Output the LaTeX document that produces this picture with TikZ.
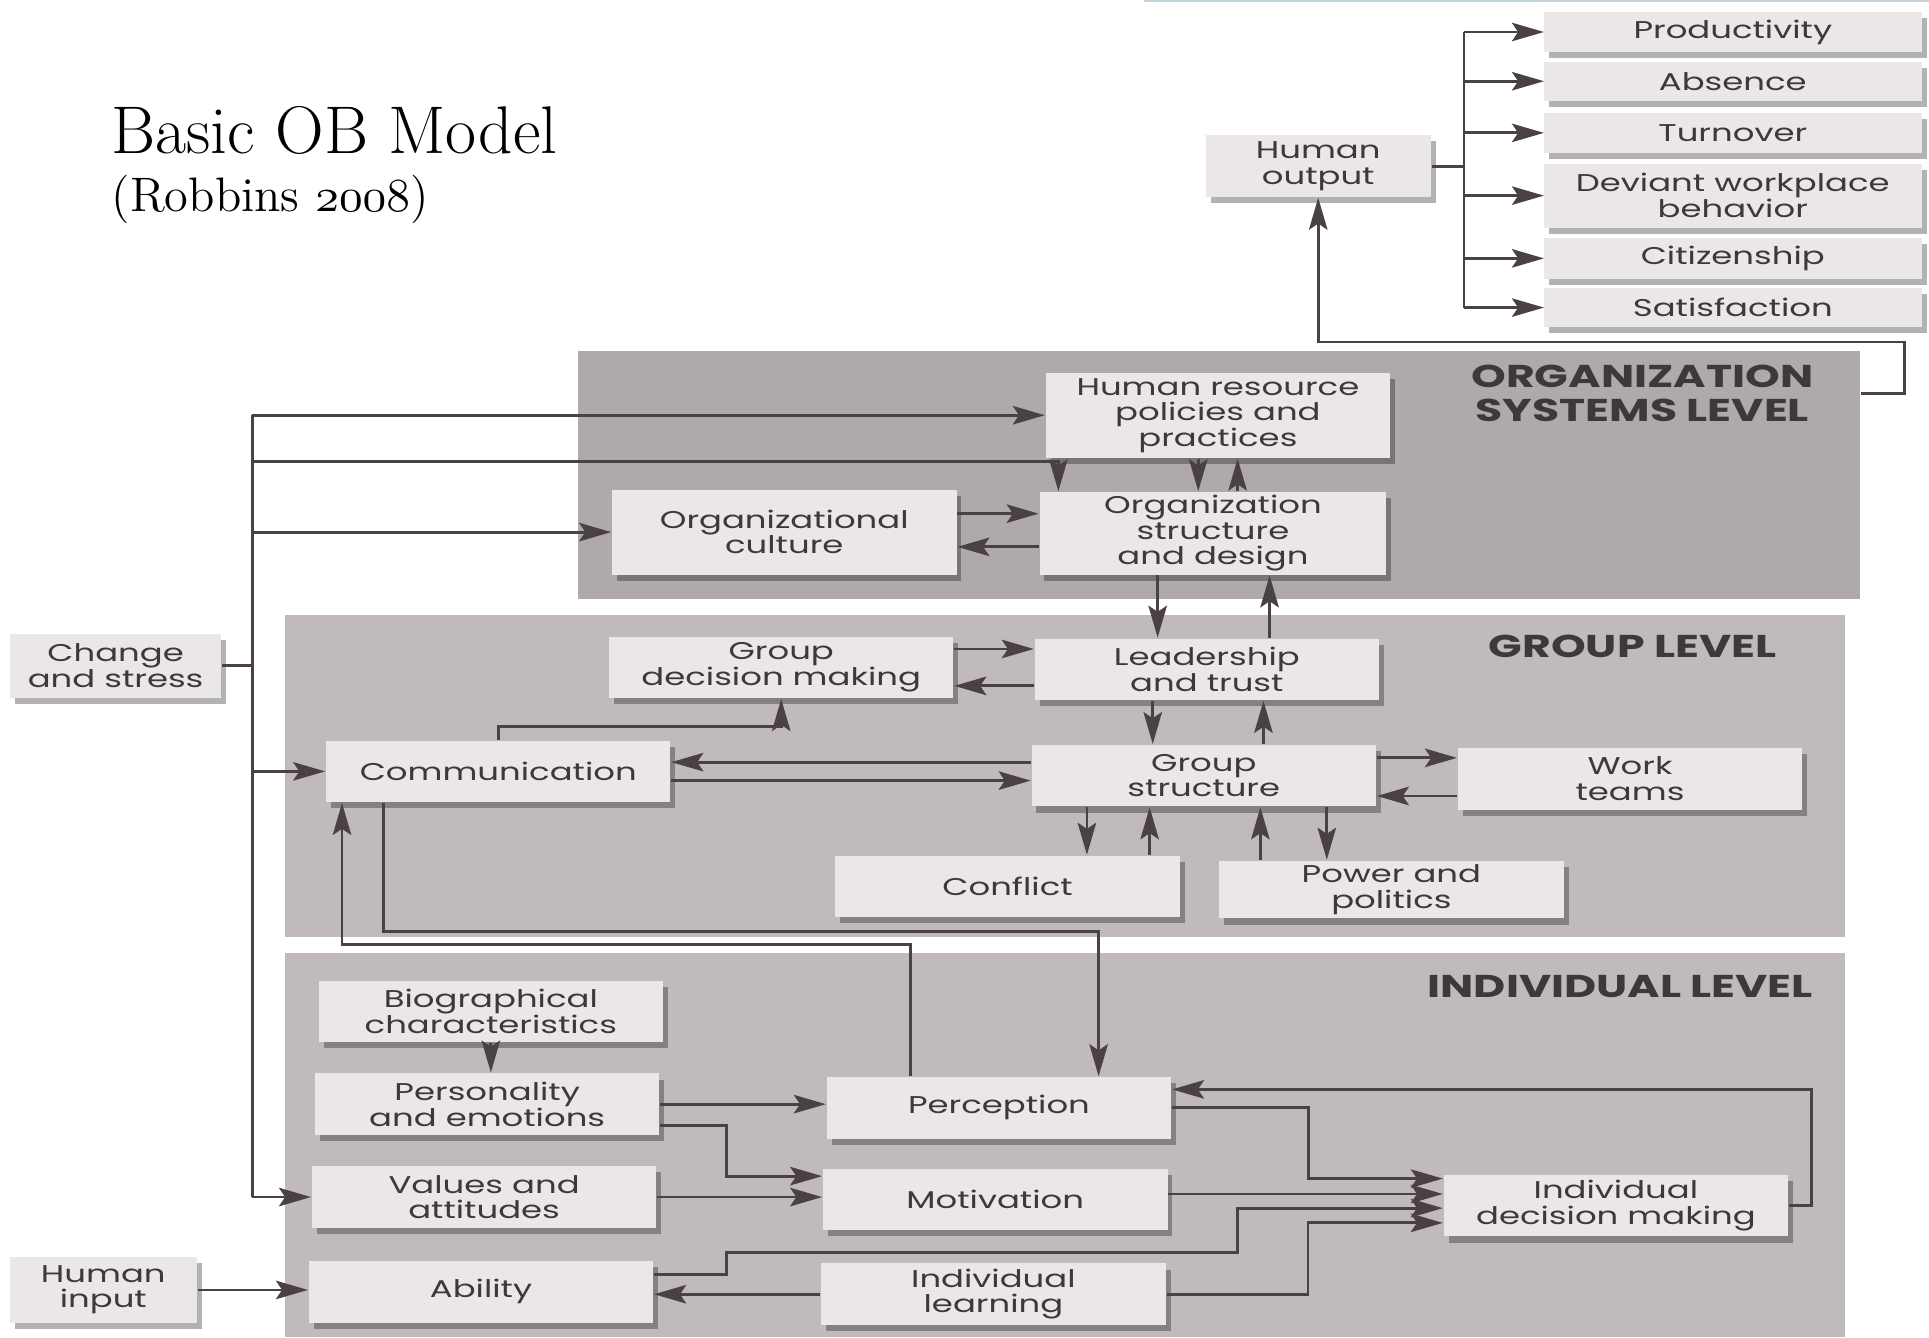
\documentclass[tikz,border=0pt]{standalone}
\usepackage{fontspec}
\usepackage{tikz}
\usetikzlibrary{arrows.meta,shadows}
\newfontfamily\boxfont[FakeStretch=1.4]{Poppins}
\newcommand\osfnum[1]{{\fontencoding{OML}\fontfamily{cmm}\fontseries{m}\fontshape{it}\selectfont #1}}
\definecolor{panelgray}{RGB}{192,186,186}
\definecolor{orggray}{RGB}{176,169,169}
\definecolor{boxfill}{RGB}{235,231,231}
\definecolor{ink}{RGB}{62,56,56}
\definecolor{linegray}{RGB}{74,66,66}
\tikzset{
	box/.style={fill=boxfill, text=ink, align=center, inner sep=0pt,
		minimum width=2.8cm, minimum height=0.5cm,
		font=\boxfont\fontsize{5.6}{5.9}\selectfont,
		drop shadow={shadow xshift=0.4mm, shadow yshift=-0.5mm, fill=black, opacity=0.3}},
	panel/.style={fill=panelgray, inner sep=0pt},
	lvl/.style={text=ink, align=center, font=\boxfont\bfseries\fontsize{7.3}{7.9}\selectfont},
	wire/.style={draw=linegray, line width=0.65pt},
	arr/.style={wire, -{Stealth[length=2.6mm, width=1.5mm, inset=0.5mm]}}
}
\begin{document}
\begin{tikzpicture}
			\useasboundingbox (0,0) rectangle (15.68,-10.87);
			\fill[white] (0,0) rectangle (15.68,-10.87);
			\draw[cyan!30!gray!40, line width=0.4pt] (9.30,-0.01) -- (15.68,-0.01);
			\node[anchor=base west, inner sep=0pt, font=\fontsize{15.6}{18}\selectfont] (title) at (0.90,-1.25) {Basic OB Model};
			\node[anchor=base west, inner sep=0pt, font=\fontsize{11.2}{13}\selectfont] (cite) at (0.90,-1.72) {(Robbins \osfnum{2008})};
			\node[panel, fill=orggray, minimum width=10.42cm, minimum height=2.02cm] (orgp) at (9.91,-3.86) {};
			\node[panel, minimum width=12.68cm, minimum height=2.62cm] (grpp) at (8.66,-6.31) {};
			\node[panel, minimum width=12.68cm, minimum height=3.12cm] (indp) at (8.66,-9.31) {};
			\node[lvl] (orglbl) at (13.35,-3.20) {ORGANIZATION\\SYSTEMS LEVEL};
			\node[lvl] (grplbl) at (13.27,-5.25) {GROUP LEVEL};
			\node[lvl] (indlbl) at (13.17,-8.02) {INDIVIDUAL LEVEL};
			\coordinate (obus) at (11.90,0);
			\coordinate (cbus) at (2.05,0);
			\foreach \nm/\yy/\hh/\tx in {prod/0.26/0.32/Productivity,abs/0.66/0.32/Absence,turn/1.08/0.32/Turnover,dev/1.59/0.52/{Deviant workplace\\behavior},cit/2.10/0.33/Citizenship,sat/2.50/0.32/Satisfaction}
			{
			\node[box, minimum width=3.07cm, minimum height=\hh cm] (\nm) at (14.085,-\yy) {\tx};
			\draw[arr] (11.90,-\yy) -- (12.55,-\yy);
			}
			\draw[wire] (prod.west -| obus) -- (sat.west -| obus);
			\node[box, minimum width=1.83cm] (hout) at (10.715,-1.35) {Human\\output};
			\draw[wire] (hout.east) -- (hout.east -| obus);
			\draw[arr] (orgp.east |- 0,-3.20) -| (15.48,-2.78) -| (hout.south);
			\node[box, minimum height=0.69cm] (hrp) at (9.90,-3.375) {Human resource\\policies and\\practices};
			\node[box, minimum width=2.82cm, minimum height=0.67cm] (os) at (9.86,-4.335) {Organization\\structure\\and design};
			\node[box, minimum height=0.69cm] (oc) at (6.375,-4.325) {Organizational\\culture};
			\node[box, minimum width=1.72cm, minimum height=0.52cm] (chg) at (0.94,-5.41) {Change\\and stress};
			\node[box] (gdm) at (6.35,-5.425) {Group\\decision making};
			\node[box] (lt) at (9.81,-5.44) {Leadership\\and trust};
			\node[box] (comm) at (4.05,-6.27) {Communication};
			\node[box] (gs) at (9.785,-6.305) {Group\\structure};
			\node[box] (wt) at (13.25,-6.33) {Work\\teams};
			\node[box] (conf) at (8.19,-7.205) {Conflict};
			\node[box, minimum height=0.47cm] (pp) at (11.31,-7.23) {Power and\\politics};
			\node[box] (bio) at (3.99,-8.22) {Biographical\\characteristics};
			\node[box] (pers) at (3.96,-8.975) {Personality\\and emotions};
			\node[box] (val) at (3.935,-9.73) {Values and\\attitudes};
			\node[box] (ab) at (3.91,-10.50) {Ability};
			\node[box] (perc) at (8.12,-9.005) {Perception};
			\node[box] (mot) at (8.09,-9.75) {Motivation};
			\node[box] (il) at (8.075,-10.52) {Individual\\learning};
			\node[box] (idm) at (13.135,-9.80) {Individual\\decision making};
			\node[box, minimum width=1.52cm, minimum height=0.53cm] (hin) at (0.84,-10.485) {Human\\input};
			\draw[wire] (chg.east) -- (chg.east -| cbus);
			\draw[wire] (hrp.west -| cbus) -- (val.west -| cbus);
			\draw[arr] (hrp.west -| cbus) -- (hrp.west);
			\draw[arr] (cbus |- 0,-3.75) -| ([xshift=1.6mm]os.north west);
			\draw[arr] (oc.west -| cbus) -- (oc.west);
			\draw[arr] (comm.west -| cbus) -- (comm.west);
			\draw[arr] (val.west -| cbus) -- (val.west);
			\draw[arr] ([xshift=-1.6mm]hrp.south) -- ([xshift=-1.6mm]hrp.south |- os.north);
			\draw[arr] ([xshift=1.6mm]hrp.south |- os.north) -- ([xshift=1.6mm]hrp.south);
			\draw[arr] ([yshift=1.5mm]oc.east) -- ([yshift=1.5mm]oc.east -| os.west);
			\draw[arr] ([yshift=-1.2mm]oc.east -| os.west) -- ([yshift=-1.2mm]oc.east);
			\draw[arr] ([xshift=-4.5mm]os.south) -- ([xshift=-4.5mm]os.south |- lt.north);
			\draw[arr] ([xshift=4.6mm]os.south |- lt.north) -- ([xshift=4.6mm]os.south);
			\draw[arr] ([yshift=1.5mm]gdm.east) -- ([yshift=1.5mm]gdm.east -| lt.west);
			\draw[arr] ([yshift=-1.5mm]gdm.east -| lt.west) -- ([yshift=-1.5mm]gdm.east);
			\draw[arr] ([xshift=-4.4mm]lt.south) -- ([xshift=-4.4mm]lt.south |- gs.north);
			\draw[arr] ([xshift=4.6mm]lt.south |- gs.north) -- ([xshift=4.6mm]lt.south);
			\draw[arr] ([yshift=1.1mm]gs.west) -- ([yshift=1.1mm]gs.west -| comm.east);
			\draw[arr] ([yshift=-0.4mm]gs.west -| comm.east) -- ([yshift=-0.4mm]gs.west);
			\draw[arr] ([yshift=1.7mm]wt.west -| gs.east) -- ([yshift=1.7mm]wt.west);
			\draw[arr] ([yshift=-1.4mm]wt.west) -- ([yshift=-1.4mm]wt.west -| gs.east);
			\draw[arr] ([xshift=-9.5mm]gs.south) -- ([xshift=-9.5mm]gs.south |- conf.north);
			\draw[arr] ([xshift=-4.4mm]gs.south |- conf.north) -- ([xshift=-4.4mm]gs.south);
			\draw[arr] ([xshift=4.6mm]gs.south |- pp.north) -- ([xshift=4.6mm]gs.south);
			\draw[arr] ([xshift=10mm]gs.south) -- ([xshift=10mm]gs.south |- pp.north);
			\draw[arr] (comm.north) -- ++(0,0.11) -| (gdm.south);
			\draw[arr] ([xshift=-9.3mm]comm.south) |- ([xshift=8.1mm]perc.north |- 0,-7.57) -- ([xshift=8.1mm]perc.north);
			\draw[arr] ([xshift=-7.2mm]perc.north) |- ([xshift=-12.7mm]comm.south |- 0,-7.68) -- ([xshift=-12.7mm]comm.south);
			\draw[arr] (bio.south) -- (bio.south |- pers.north);
			\draw[arr] (pers.east) -- (pers.east -| perc.west);
			\draw[arr] ([yshift=-1.75mm]pers.east) -- ++(0.54,0) |- ([yshift=1.9mm]mot.west);
			\draw[arr] (val.east) -- (val.east -| mot.west);
			\draw[arr] (hin.east) -- (hin.east -| ab.west);
			\draw[arr] (il.west) -- (il.west -| ab.east);
			\draw[arr] (perc.east) -- ++(1.11,0) |- ([yshift=2.2mm]idm.west);
			\draw[arr] ([yshift=0.45mm]mot.east) -- ([yshift=0.45mm]mot.east -| idm.west);
			\draw[arr] ([yshift=1.4mm]ab.east) -- ++(0.59,0) |- (10.06,-10.18) |- ([yshift=-0.2mm]idm.west);
			\draw[arr] (il.east) -- ++(1.15,0) |- ([yshift=-1.4mm]idm.west);
			\draw[arr] (idm.east) -- ++(0.18,0) |- ([yshift=1.5mm]perc.east);
	\end{tikzpicture}
\end{document}
